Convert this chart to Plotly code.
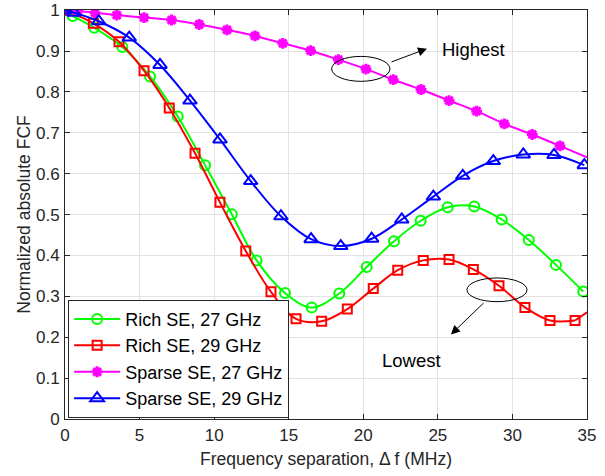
import plotly.graph_objects as go

# ---- data ----
rich27_x = [0, 0.52, 1.96, 3.84, 5.70, 7.56, 9.39, 11.18, 12.85, 14.75, 16.54, 18.39,
            20.23, 22.06, 23.85, 25.66, 27.44, 29.28, 31.1, 32.92, 34.75]
rich27_y = [1.0, 0.986, 0.957, 0.910, 0.838, 0.740, 0.621, 0.501, 0.388, 0.308, 0.273, 0.307,
            0.372, 0.435, 0.485, 0.518, 0.520, 0.488, 0.438, 0.377, 0.312]

rich29_x = [0, 1.9, 3.62, 5.30, 6.99, 8.72, 10.39, 12.12, 13.81, 15.49, 17.21, 18.93,
            20.67, 22.31, 24.02, 25.75, 27.38, 29.1, 30.84, 32.52, 34.2]
rich29_y = [1.0, 0.968, 0.923, 0.852, 0.761, 0.650, 0.530, 0.411, 0.311, 0.245, 0.239, 0.269,
            0.319, 0.364, 0.388, 0.390, 0.366, 0.326, 0.273, 0.241, 0.241]
rich29_end_x = [34.2, 35]
rich29_end_y = [0.241, 0.261]

sparse27_x = [0, 0.85, 2.01, 3.47, 5.30, 7.15, 9.0, 10.86, 12.74, 14.6, 16.47, 18.33,
              20.18, 22.01, 23.87, 25.75, 27.6, 29.46, 31.33, 33.19]
sparse27_y = [1.0, 0.998, 0.994, 0.988, 0.982, 0.976, 0.965, 0.952, 0.937, 0.919, 0.901, 0.879,
              0.856, 0.830, 0.806, 0.779, 0.753, 0.722, 0.696, 0.668]
sparse27_end_x = [33.19, 35]
sparse27_end_y = [0.668, 0.640]

sparse29_x = [0, 0.6, 2.26, 4.31, 6.37, 8.38, 10.39, 12.45, 14.48, 16.5, 18.49, 20.56,
              22.58, 24.7, 26.67, 28.72, 30.73, 32.79, 34.82]
sparse29_y = [1.0, 0.994, 0.973, 0.933, 0.866, 0.779, 0.684, 0.582, 0.496, 0.440, 0.423, 0.441,
              0.488, 0.544, 0.595, 0.631, 0.647, 0.646, 0.621]

x_ticks = [0, 5, 10, 15, 20, 25, 30, 35]
y_ticks = [0, 0.1, 0.2, 0.3, 0.4, 0.5, 0.6, 0.7, 0.8, 0.9, 1]
y_tick_labels = ["0", "0.1", "0.2", "0.3", "0.4", "0.5", "0.6", "0.7", "0.8", "0.9", "1"]

names = ["Rich SE, 27 GHz", "Rich SE, 29 GHz", "Sparse SE, 27 GHz", "Sparse SE, 29 GHz"]
colors = ["#00FF00", "#FF0000", "#FF00FF", "#0000FF"]

FONT = "Liberation Sans, Arial, sans-serif"
fig = go.Figure()

def add_series(x, y, name, color, symbol, size, lw=2):
    fig.add_trace(go.Scatter(
        x=x, y=y, name=name, mode="lines+markers",
        line=dict(color=color, width=2, shape="spline", smoothing=1.0),
        marker=dict(symbol=symbol, size=size, color=color,
                    line=dict(color=color, width=lw)),
    ))

def add_tail(x, y, color):
    fig.add_trace(go.Scatter(
        x=x, y=y, mode="lines", showlegend=False, hoverinfo="skip",
        line=dict(color=color, width=2, shape="spline"),
    ))

add_tail(rich29_end_x, rich29_end_y, colors[1])
add_tail(sparse27_end_x, sparse27_end_y, colors[2])
add_series(rich27_x, rich27_y, names[0], colors[0], "circle-open", 10)
add_series(rich29_x, rich29_y, names[1], colors[1], "square-open", 9)
add_series(sparse27_x, sparse27_y, names[2], colors[2], "asterisk-open", 9, lw=3)
add_series(sparse29_x, sparse29_y, names[3], colors[3], "triangle-up-open", 12)

# ellipses and arrows
fig.add_shape(type="circle", xref="x", yref="y", x0=17.88, x1=21.79, y0=0.826, y1=0.887,
              line=dict(color="black", width=1))
fig.add_shape(type="circle", xref="x", yref="y", x0=26.95, x1=30.98, y0=0.287, y1=0.345,
              line=dict(color="black", width=1))
fig.add_annotation(x=24.27, y=0.906, ax=21.79, ay=0.872, xref="x", yref="y",
                   axref="x", ayref="y", showarrow=True, arrowhead=2, arrowsize=1.8,
                   arrowwidth=1, arrowcolor="black", text="")
fig.add_annotation(x=25.88, y=0.207, ax=28.16, ay=0.287, xref="x", yref="y",
                   axref="x", ayref="y", showarrow=True, arrowhead=2, arrowsize=1.8,
                   arrowwidth=1, arrowcolor="black", text="")
fig.add_annotation(x=27.36, y=0.904, xref="x", yref="y", text="Highest", showarrow=False,
                   font=dict(family=FONT, size=18.5, color="black"))
fig.add_annotation(x=23.25, y=0.143, xref="x", yref="y", text="Lowest", showarrow=False,
                   font=dict(family=FONT, size=18.5, color="black"))

axis_common = dict(
    showline=True, linecolor="#262626", linewidth=1, mirror="ticks",
    ticks="inside", ticklen=5, tickcolor="#262626",
    showgrid=True, gridcolor="#E3E3E3", gridwidth=1, zeroline=False,
    tickfont=dict(family=FONT, size=17, color="#262626"),
    automargin=False, ticklabeloverflow="allow",
)

fig.update_layout(
    width=605, height=476,
    margin=dict(l=65, r=18, t=10, b=57),
    paper_bgcolor="white", plot_bgcolor="white",
    font=dict(family=FONT, color="#262626"),
    xaxis=dict(range=[0, 35.001], tickvals=x_ticks, ticklabelstandoff=1,
               title=dict(text="Frequency separation, \u0394 f (MHz)",
                          font=dict(family=FONT, size=17.5, color="#262626"), standoff=8),
               **axis_common),
    yaxis=dict(range=[0, 1.0005], tickvals=y_ticks, ticktext=y_tick_labels,
               ticklabelstandoff=1,
               title=dict(text="Normalized absolute FCF",
                          font=dict(family=FONT, size=17.5, color="#262626"), standoff=0),
               **axis_common),
    legend=dict(x=0.006, y=0.003, xanchor="left", yanchor="bottom",
                bgcolor="white", bordercolor="#262626", borderwidth=1,
                font=dict(family=FONT, size=18, color="black"),
                tracegroupgap=0, itemwidth=46),
    showlegend=True,
)

fig.write_html("out.html", config={"displayModeBar": False},
               post_script="document.body.style.margin='0px';document.body.style.padding='0px';")
